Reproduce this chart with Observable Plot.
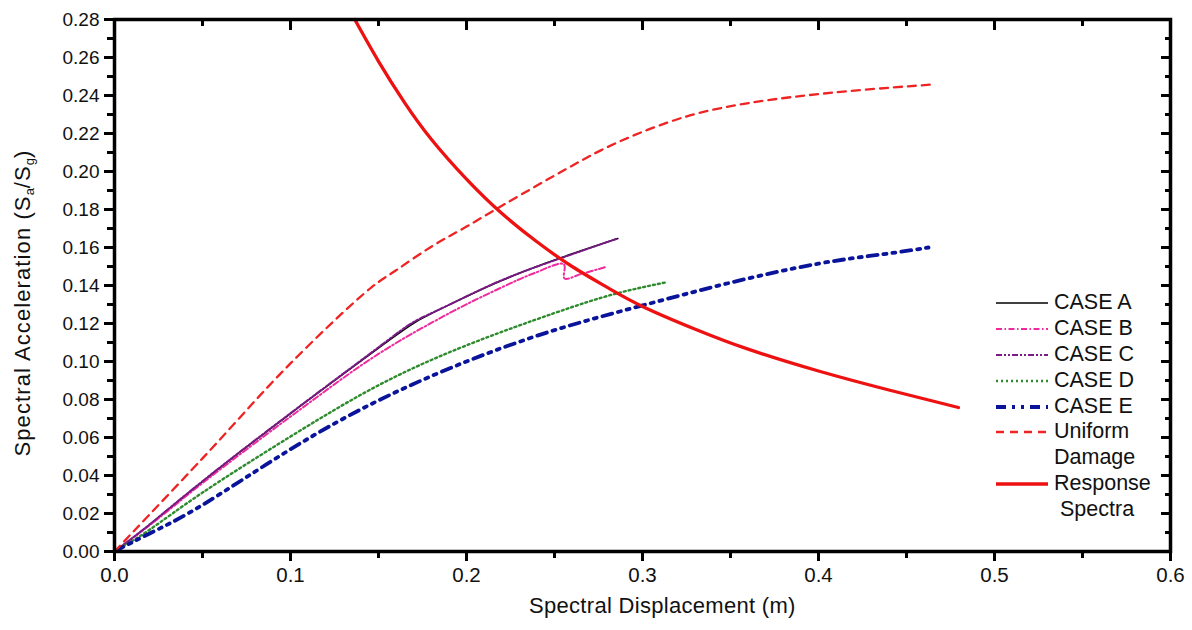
<!DOCTYPE html>
<html>
<head>
<meta charset="utf-8">
<script src="https://cdn.jsdelivr.net/npm/d3@7"></script>
<script src="https://cdn.jsdelivr.net/npm/@observablehq/plot@0.6"></script>
<style>
  html, body { margin: 0; padding: 0; background: #fff; }
  #wrap { position: relative; width: 1192px; height: 630px; font-family: "Liberation Sans", Arial, sans-serif; color: #000; }
  #wrap svg.plot { position: absolute; left: 0; top: 0; }
  .xtitle { position: absolute; left: 529px; top: 593px; white-space: nowrap; font-size: 22px; letter-spacing: 0.3px; color: #111; }
  .ytitle { position: absolute; left: 23px; top: 303px; transform: translate(-50%, -50%) rotate(-90deg); white-space: nowrap; font-size: 22px; letter-spacing: 1.1px; color: #111; }
  .ytitle sub { font-size: 13px; vertical-align: -4px; letter-spacing: 0; }
  .legend { position: absolute; left: 994px; top: 290px; font-size: 21.5px; line-height: 25.9px; color: #111; }
  .legend .row { display: flex; align-items: center; height: 25.9px; }
  .legend .row svg { width: 56px; height: 12px; margin-right: 4px; flex: none; }
  .legend .cont { padding-left: 60px; }
</style>
</head>
<body>
<div id="wrap"></div>
<script>
// ---- tick values ----
const xMajor = [0, 0.1, 0.2, 0.3, 0.4, 0.5, 0.6];
const xMinor = [0.05, 0.15, 0.25, 0.35, 0.45, 0.55];
const yMajor = [0, 0.02, 0.04, 0.06, 0.08, 0.10, 0.12, 0.14, 0.16, 0.18, 0.20, 0.22, 0.24, 0.26, 0.28];
const yMinor = [0.01, 0.03, 0.05, 0.07, 0.09, 0.11, 0.13, 0.15, 0.17, 0.19, 0.21, 0.23, 0.25, 0.27];

// ---- series (Sd in m, Sa/Sg) ----
const caseA_sd = [0, 0.02, 0.05, 0.1, 0.15, 0.172, 0.191, 0.22, 0.254, 0.286];
const caseA_sa = [0, 0.0142, 0.0368, 0.0726, 0.107, 0.1212, 0.1302, 0.1426, 0.1547, 0.1647];

const caseB_sd = [0, 0.02, 0.05, 0.1, 0.15, 0.191, 0.22, 0.238, 0.2553, 0.2557, 0.265, 0.279];
const caseB_sa = [0, 0.0138, 0.036, 0.071, 0.104, 0.1258, 0.139, 0.1463, 0.1512, 0.1437, 0.146, 0.1497];

const caseC_sd = [0, 0.02, 0.05, 0.1, 0.15, 0.17, 0.19, 0.22, 0.254, 0.285];
const caseC_sa = [0, 0.0143, 0.037, 0.0728, 0.1075, 0.1208, 0.1298, 0.1428, 0.1545, 0.1645];

const caseD_sd = [0, 0.02, 0.05, 0.1, 0.15, 0.2, 0.25, 0.284, 0.313];
const caseD_sa = [0, 0.0115, 0.031, 0.0605, 0.0875, 0.1085, 0.1255, 0.1355, 0.1416];

const caseE_sd = [0, 0.02, 0.05, 0.1, 0.15, 0.2, 0.25, 0.3, 0.35, 0.4, 0.437, 0.4625];
const caseE_sa = [0, 0.0095, 0.0245, 0.0538, 0.0795, 0.1, 0.1165, 0.1295, 0.1415, 0.1515, 0.1565, 0.160];

const uniform_sd = [0, 0.05, 0.1, 0.146, 0.16, 0.181, 0.2, 0.222, 0.258, 0.276, 0.295, 0.315, 0.333, 0.362, 0.409, 0.465];
const uniform_sa = [0, 0.049, 0.099, 0.139, 0.148, 0.161, 0.171, 0.183, 0.202, 0.211, 0.219, 0.226, 0.231, 0.2363, 0.2416, 0.2458];

const resp_sd = [0.1365, 0.15, 0.165, 0.18, 0.2, 0.22, 0.24, 0.26, 0.28, 0.3, 0.33, 0.36, 0.4, 0.44, 0.4795];
const resp_sa = [0.28, 0.258, 0.236, 0.217, 0.196, 0.178, 0.163, 0.150, 0.139, 0.129, 0.117, 0.1065, 0.095, 0.085, 0.0758];

const seriesNames = ["CASE A", "CASE B", "CASE C", "CASE D", "CASE E", "Uniform\nDamage", "Response\nSpectra"];

// ---- styles (not data) ----
const styles = [
  {sd: caseA_sd, sa: caseA_sa, stroke: "#000000", strokeWidth: 1.5, dash: null, curve: "natural"},
  {sd: caseB_sd, sa: caseB_sa, stroke: "#ee2a9c", strokeWidth: 2, dash: "6,2.5,1.5,2.5", curve: "catmull-rom"},
  {sd: caseC_sd, sa: caseC_sa, stroke: "#7a1a86", strokeWidth: 2, dash: "6,2,2,2,2,2", curve: "natural"},
  {sd: caseD_sd, sa: caseD_sa, stroke: "#2e8b2e", strokeWidth: 2.4, dash: "2,3", curve: "natural"},
  {sd: caseE_sd, sa: caseE_sa, stroke: "#0a149a", strokeWidth: 3.8, dash: "10,6,3,6,3,6", curve: "natural"},
  {sd: uniform_sd, sa: uniform_sa, stroke: "#ee2424", strokeWidth: 2.3, dash: "8,6", curve: "catmull-rom"},
  {sd: resp_sd, sa: resp_sa, stroke: "#ee1111", strokeWidth: 3.3, dash: null, curve: "natural"}
];

const lineMarks = styles.map((s, i) => {
  const data = s.sd.map((d, j) => ({sd: d, sa: s.sa[j]}));
  return Plot.line(data, {
    x: "sd", y: "sa", stroke: s.stroke, strokeWidth: s.strokeWidth,
    strokeDasharray: s.dash ?? undefined, curve: s.curve
  });
});

const tickW = 3;
const chart = Plot.plot({
  width: 1192, height: 630,
  marginLeft: 114, marginRight: 22, marginTop: 19, marginBottom: 79,
  x: {domain: [0, 0.6]},
  y: {domain: [0, 0.28]},
  style: {fontFamily: '"Liberation Sans", Arial, sans-serif', color: "#000", background: "#fff", overflow: "visible"},
  marks: [
    ...lineMarks,
    Plot.axisX({ticks: xMajor, tickSize: 10, tickPadding: 6, tickFormat: d3.format(".1f"), label: null, strokeWidth: tickW, fontSize: 20.5, fill: "#111"}),
    Plot.axisX({ticks: xMinor, tickSize: 7, tickFormat: () => "", label: null, strokeWidth: tickW}),
    Plot.axisX({anchor: "top", ticks: xMajor, tickSize: -10, tickFormat: () => "", label: null, strokeWidth: tickW}),
    Plot.axisX({anchor: "top", ticks: xMinor, tickSize: -6, tickFormat: () => "", label: null, strokeWidth: tickW}),
    Plot.axisY({ticks: yMajor, tickSize: 10, tickPadding: 5, tickFormat: d3.format(".2f"), label: null, strokeWidth: tickW, fontSize: 19, letterSpacing: "1.8px", fill: "#111"}),
    Plot.axisY({ticks: yMinor, tickSize: 7, tickFormat: () => "", label: null, strokeWidth: tickW}),
    Plot.axisY({anchor: "right", ticks: yMajor, tickSize: -10, tickFormat: () => "", label: null, strokeWidth: tickW}),
    Plot.axisY({anchor: "right", ticks: yMinor, tickSize: -6, tickFormat: () => "", label: null, strokeWidth: tickW}),
    Plot.frame({stroke: "#000", strokeWidth: 3.5})
  ]
});
chart.classList.add("plot");
const wrap = document.getElementById("wrap");
wrap.appendChild(chart);

// axis titles
const xt = document.createElement("div");
xt.className = "xtitle";
xt.textContent = "Spectral Displacement (m)";
wrap.appendChild(xt);
const yt = document.createElement("div");
yt.className = "ytitle";
yt.innerHTML = "Spectral Acceleration (S<sub>a</sub>/S<sub>g</sub>)";
wrap.appendChild(yt);

// legend
const lg = document.createElement("div");
lg.className = "legend";
seriesNames.forEach((name, i) => {
  const s = styles[i];
  const parts = name.split("\n");
  const row = document.createElement("div");
  row.className = "row";
  const dash = s.dash ? `stroke-dasharray="${s.dash}"` : "";
  row.innerHTML = `<svg viewBox="0 0 56 12"><line x1="2" x2="54" y1="6" y2="6" stroke="${s.stroke}" stroke-width="${s.strokeWidth}" ${dash}/></svg><span>${parts[0]}</span>`;
  lg.appendChild(row);
  if (parts[1]) {
    const r2 = document.createElement("div");
    r2.className = "row cont";
    if (i === 6) r2.style.paddingLeft = "66px";
    r2.textContent = parts[1];
    lg.appendChild(r2);
  }
});
wrap.appendChild(lg);
</script>
</body>
</html>
